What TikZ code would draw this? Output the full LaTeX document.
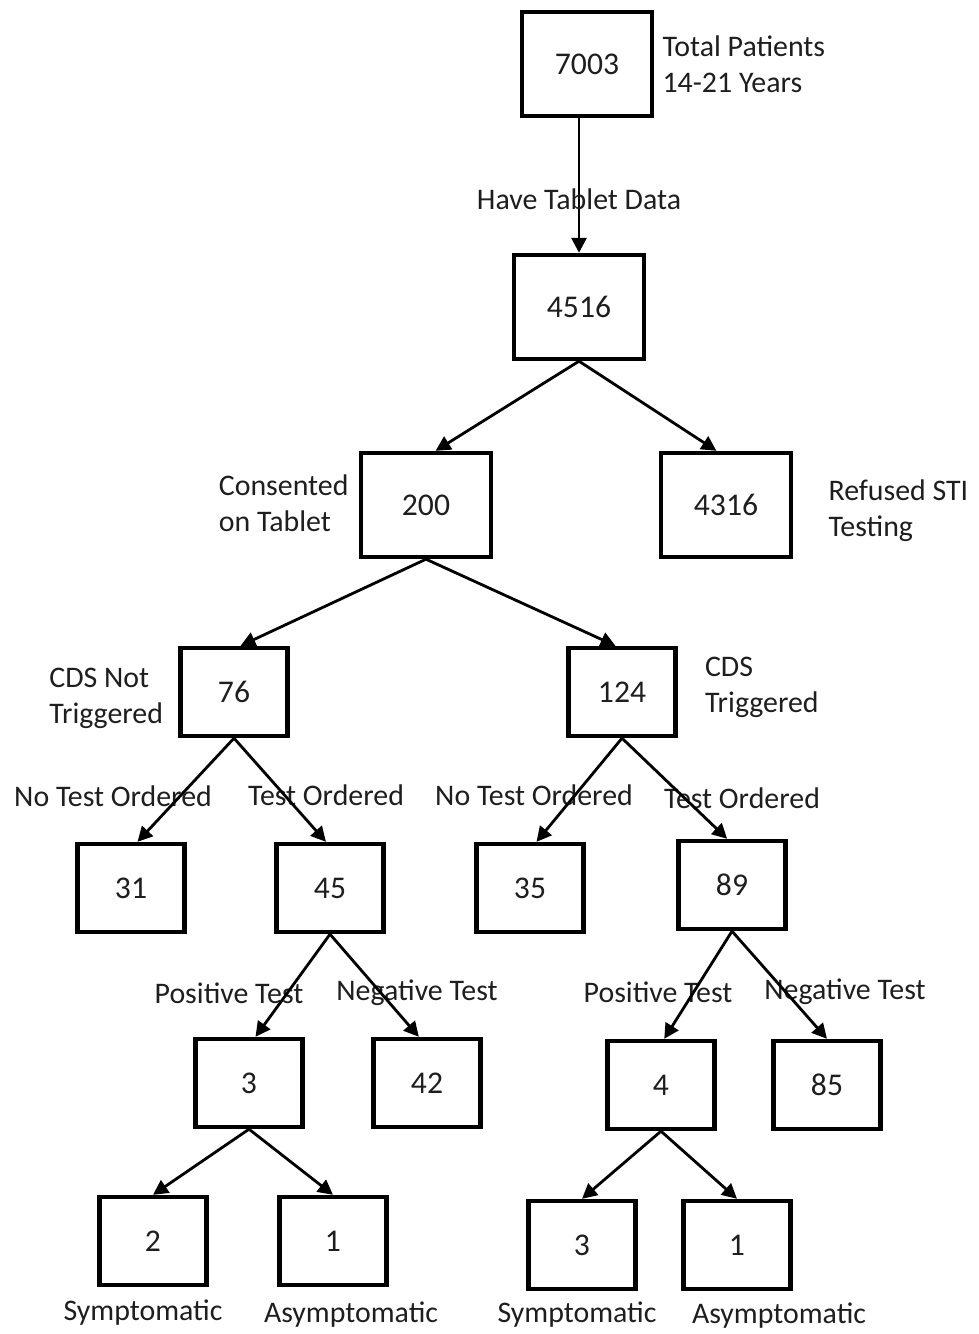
\documentclass[tikz,border=0pt]{standalone}
\usepackage{fontspec}
\setmainfont{Carlito}
\usepackage{tikz}
\usetikzlibrary{arrows.meta, positioning}
\definecolor{inkgray}{RGB}{30, 30, 30}

\begin{document}
\begin{tikzpicture}[
  x=0.02cm, y=-0.02cm,
  box/.style={rectangle, draw=black, line width=2.5pt, text=inkgray,
              font=\fontsize{18}{21}\selectfont, inner sep=0pt},
  bigbox/.style={box, minimum width=2.6cm, minimum height=2.08cm},
  smallbox/.style={box, minimum width=2.14cm, minimum height=1.76cm},
  lbl/.style={text=inkgray, font=\fontsize{17}{20.5}\selectfont,
              align=left, inner sep=0pt},
  arr/.style={-{Triangle[length=8.5pt, width=8.5pt]}, line width=1.6pt}
]
  \useasboundingbox (0,0) rectangle (979,1334);

  %% Top of the tree
  \node[bigbox]   (n7003) at (587,64)   {7003};
  \node[bigbox]   (n4516) at (579,307)  {4516};
  \node[bigbox]   (n200)  at (426,505)  {200};
  \node[bigbox]   (n4316) at (726,505)  {4316};

  %% CDS split
  \node[smallbox] (n76)   at (234,692)  {76};
  \node[smallbox] (n124)  at (622,692)  {124};

  %% Test ordered or not
  \node[smallbox] (n31)   at (131,888)  {31};
  \node[smallbox] (n45)   at (330,888)  {45};
  \node[smallbox] (n35)   at (530,888)  {35};
  \node[smallbox] (n89)   at (732,885)  {89};

  %% Test results
  \node[smallbox] (n3a)   at (249,1083) {3};
  \node[smallbox] (n42)   at (427,1083) {42};
  \node[smallbox] (n4)    at (661,1085) {4};
  \node[smallbox] (n85)   at (827,1085) {85};

  %% Symptoms
  \node[smallbox] (n2)    at (153,1241) {2};
  \node[smallbox] (n1a)   at (333,1241) {1};
  \node[smallbox] (n3b)   at (582,1245) {3};
  \node[smallbox] (n1b)   at (737,1245) {1};

  %% Side labels
  \node[lbl, right=0.16cm of n7003] {Total Patients\\14-21 Years};
  \node[lbl, left=0.2cm of n200, yshift=0.04cm] {Consented\\on Tablet};
  \node[lbl, right=0.7cm of n4316, yshift=-0.12cm] {Refused STI\\Testing};
  \node[lbl, left=0.3cm of n76, yshift=-0.12cm]    {CDS Not\\Triggered};
  \node[lbl, right=0.54cm of n124, yshift=0.1cm]   {CDS\\Triggered};

  %% Branch labels
  \node[lbl] at (113,796)  {No Test Ordered};
  \node[lbl] at (326,795)  {Test Ordered};
  \node[lbl] at (534,795)  {No Test Ordered};
  \node[lbl] at (742,798)  {Test Ordered};
  \node[lbl] at (229,993)  {Positive Test};
  \node[lbl] at (417,993)  {Negative Test};
  \node[lbl] at (658,992)  {Positive Test};
  \node[lbl] at (845,992)  {Negative Test};
  \node[lbl] at (143,1313) {Symptomatic};
  \node[lbl] at (351,1315) {Asymptomatic};
  \node[lbl] at (577,1315) {Symptomatic};
  \node[lbl] at (779,1316) {Asymptomatic};

  %% Arrows
  \draw[arr] (n4516.north |- n7003.south) --
    node[lbl, pos=0.6]{Have Tablet Data} (n4516.north);
  \draw[arr] (n4516.south) -- (n200.80);
  \draw[arr] (n4516.south) -- (n4316.100);
  \draw[arr] (n200.south)  -- (n76.82);
  \draw[arr] (n200.south)  -- (n124.98);
  \draw[arr] (n76.south)   -- (n31.82);
  \draw[arr] (n76.south)   -- (n45.95);
  \draw[arr] (n124.south)  -- (n35.82);
  \draw[arr] (n124.south)  -- (n89.96);
  \draw[arr] (n45.south)   -- (n3a.82);
  \draw[arr] (n45.south)   -- (n42.100);
  \draw[arr] (n89.south)   -- (n4.86);
  \draw[arr] (n89.south)   -- (n85.north);
  \draw[arr] (n3a.south)   -- (n2.north);
  \draw[arr] (n3a.south)   -- (n1a.north);
  \draw[arr] (n4.south)    -- (n3b.north);
  \draw[arr] (n4.south)    -- (n1b.north);
\end{tikzpicture}
\end{document}
